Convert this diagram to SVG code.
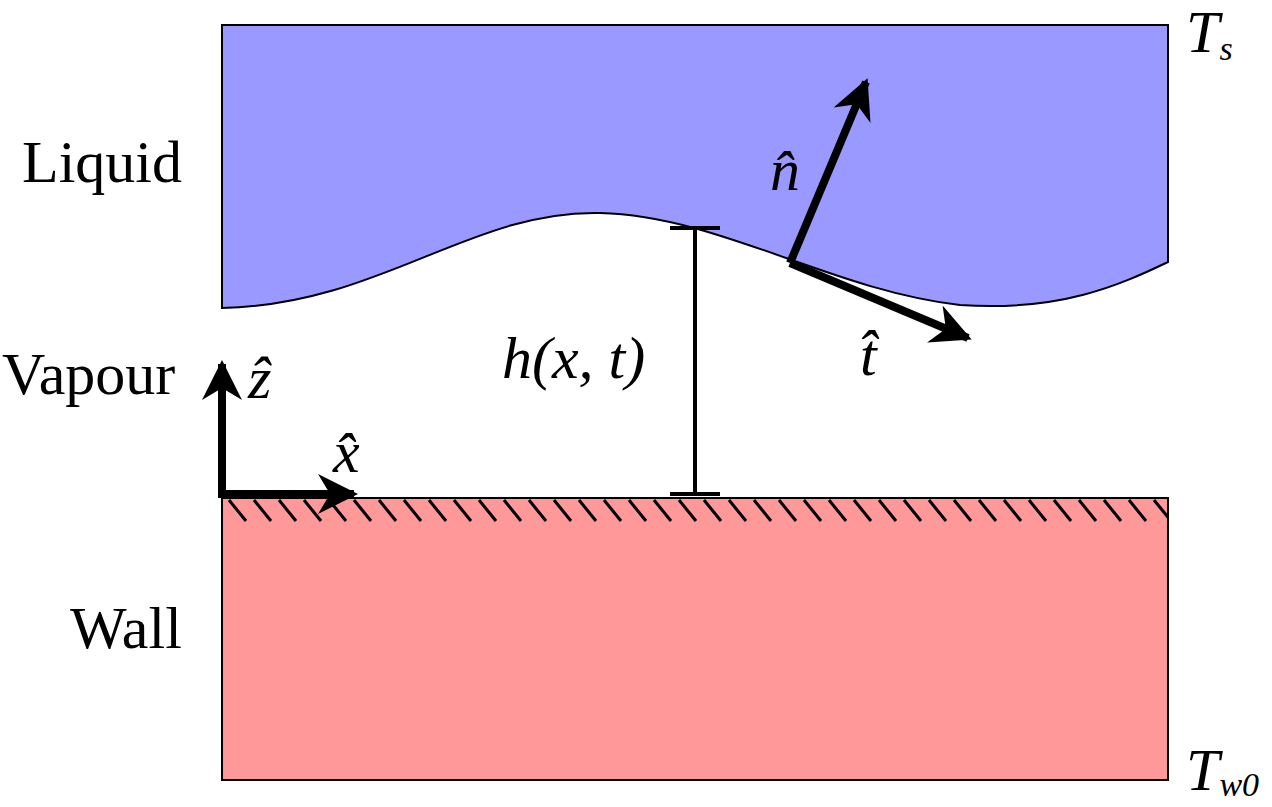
<svg xmlns="http://www.w3.org/2000/svg" width="1272" height="807" viewBox="0 0 1272 807">
<defs>
<pattern id="hatch" x="0" y="498" width="25" height="25" patternUnits="userSpaceOnUse">
<line x1="4" y1="2" x2="21" y2="23" stroke="#000" stroke-width="3"/>
</pattern>
<marker id="ah" viewBox="0 0 10 10" refX="9" refY="5" markerWidth="5.5" markerHeight="5" orient="auto" markerUnits="strokeWidth">
<path d="M0,0 L10,5 L0,10 L3,5 Z" fill="#000"/>
</marker>
<style>
.t{font-family:"Liberation Serif",serif;font-size:60px;fill:#000}
.i{font-style:italic}
.a{stroke:#000;stroke-width:8;fill:none;marker-end:url(#ah)}
</style>
</defs>
<rect width="1272" height="807" fill="#fff"/>
<g id="liquid">
<path d="M222,25 H1168 V262 C1120,285 1060,312 960,305 C830,290 720,216 600,213 C470,210 380,305 222,308 Z" fill="#9999ff" stroke="#000" stroke-width="2"/>
</g>
<g id="wall">
<rect x="222" y="498" width="946" height="282" fill="#ff9999" stroke="#000" stroke-width="2"/>
<rect x="223" y="499" width="944" height="24" fill="url(#hatch)"/>
</g>
<g id="connectors">
<path class="a" d="M790,263 L866,82"/>
<path class="a" d="M790,263 L968,338"/>
<path class="a" d="M222,497 V364"/>
<path class="a" d="M218,494 H354"/>
<path d="M695,228 V494 M670,228 H720 M670,494 H720" stroke="#000" stroke-width="4" fill="none"/>
</g>
<g id="labels">
<text class="t" x="22" y="182">Liquid</text>
<text class="t" x="2" y="394">Vapour</text>
<text class="t" x="70" y="648">Wall</text>
<text class="t i" x="502" y="378">h(x, t)</text>
<text class="t i" x="1186" y="52" font-size="50">T<tspan font-size="34" dy="8">s</tspan></text>
<text class="t i" x="1186" y="790" font-size="50">T<tspan font-size="34" dy="6">w0</tspan></text>
<text class="t i" x="770" y="190">n̂</text>
<text class="t i" x="860" y="375">t̂</text>
<text class="t i" x="248" y="398">ẑ</text>
<text class="t i" x="333" y="472">x̂</text>
</g>
</svg>
